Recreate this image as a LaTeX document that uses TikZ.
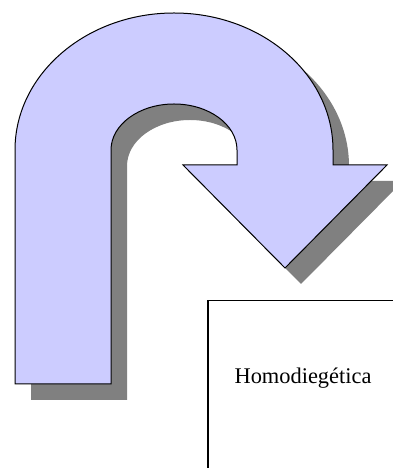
\documentclass[tikz,border=0pt]{standalone}
\usepackage{fontspec}
\setmainfont{Liberation Serif}
\definecolor{arrowfill}{RGB}{204,204,255}
\definecolor{shadowgray}{RGB}{128,128,128}
\tikzset{
  uturn/.pic={
    \path (15,84) -- (15,318) arc[start angle=180,end angle=0,x radius=159pt,y radius=137pt]
      -- (333,303) -- (387,303) -- (285,200) -- (183,303) -- (237,303) -- (237,318)
      arc[start angle=0,end angle=180,x radius=63pt,y radius=46pt] -- (111,84) -- cycle;
  },
  arrowshape/.style={fill=arrowfill,draw=black,line width=1pt,line join=miter},
  shadowshape/.style={fill=shadowgray},
  boxstyle/.style={draw=black,line width=1.5pt,rectangle,anchor=north west,minimum width=220pt,minimum height=200pt,inner sep=0pt},
  labelstyle/.style={font=\fontsize{22.4}{26}\selectfont,inner sep=0pt}
}
\begin{document}
\begin{tikzpicture}[x=1pt,y=1pt]
\useasboundingbox (0,0) rectangle (393,468);
\clip (0,0) rectangle (393,468);
\fill[white] (0,0) rectangle (393,468);
% shadow
\begin{scope}[shift={(16,-16)}]
\path[shadowshape] (15,84) -- (15,318) arc[start angle=180,end angle=0,x radius=159pt,y radius=137pt]
  -- (333,303) -- (387,303) -- (285,200) -- (183,303) -- (237,303) -- (237,318)
  arc[start angle=0,end angle=180,x radius=63pt,y radius=46pt] -- (111,84) -- cycle;
\end{scope}
% arrow
\path[arrowshape] (15,84) -- (15,318) arc[start angle=180,end angle=0,x radius=159pt,y radius=137pt]
  -- (333,303) -- (387,303) -- (285,200) -- (183,303) -- (237,303) -- (237,318)
  arc[start angle=0,end angle=180,x radius=63pt,y radius=46pt] -- (111,84) -- cycle;
% box
\node[boxstyle] (box) at (207,168) {};
\node[labelstyle] (label) at (303,90) {Homodiegética};
\end{tikzpicture}
\end{document}
